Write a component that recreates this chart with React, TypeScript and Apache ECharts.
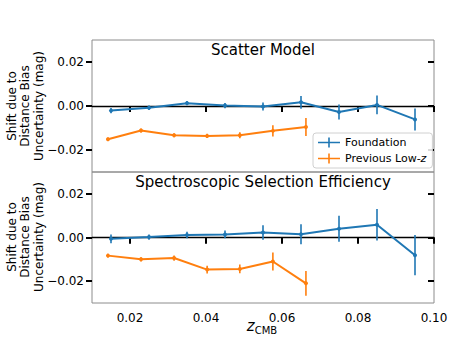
import React, { useEffect, useRef } from "react";
import * as echarts from "echarts";

const BLUE = "#1f77b4";
const ORANGE = "#ff7f0e";

// Foundation bins
const foundationZ = [0.015, 0.025, 0.035, 0.045, 0.055, 0.065, 0.075, 0.085, 0.095];
const foundationScatter = [-0.0021, -0.0008, 0.0013, 0.0002, -0.0002, 0.0017, -0.0027, 0.0005, -0.0061];
const foundationScatterErr = [0.0012, 0.001, 0.001, 0.0012, 0.0018, 0.0029, 0.0034, 0.0043, 0.005];
const foundationSpec = [-0.0006, 0.0002, 0.0011, 0.0014, 0.0023, 0.0015, 0.004, 0.0058, -0.0081];
const foundationSpecErr = [0.002, 0.0012, 0.0015, 0.0018, 0.0033, 0.0046, 0.006, 0.0072, 0.0092];

// Previous Low-z bins
const lowzZ = [0.0142, 0.0229, 0.0316, 0.0403, 0.0489, 0.0576, 0.0663];
const lowzScatter = [-0.0151, -0.0111, -0.0133, -0.0136, -0.0133, -0.0113, -0.0095];
const lowzScatterErr = [0.0008, 0.0009, 0.0009, 0.001, 0.0014, 0.0026, 0.0041];
const lowzSpec = [-0.0083, -0.01, -0.0094, -0.0147, -0.0144, -0.011, -0.021];
const lowzSpecErr = [0.0009, 0.001, 0.0012, 0.0018, 0.002, 0.0041, 0.0057];

const xTicks = [0.02, 0.04, 0.06, 0.08, 0.1];
const yTicks = [-0.02, 0, 0.02];

const FONT = "DejaVu Sans";
const crossIcon = "path://M0,4.2h22v1.6h-22z M10.2,0h1.6v10h-1.6z";

function fmt(v: number) {
  const s = Math.abs(v).toFixed(2);
  return v < -1e-9 ? "\u2212" + s : s;
}

export default function App() {
  const ref = useRef<HTMLDivElement>(null);
  useEffect(() => {
    document.body.style.margin = "0";
    const chart = echarts.init(ref.current!, null, { renderer: "svg" });
    const grids = [
      { left: 92, top: 40, width: 342, height: 132 },
      { left: 92, top: 172, width: 342, height: 131 },
    ].map((g) => ({ ...g, show: true, borderColor: "#8c8c8c", borderWidth: 1, backgroundColor: "transparent" }));

    const mkX = (grid: number, inside: boolean, labels: boolean) => ({
      type: "value",
      gridIndex: grid,
      min: 0.01,
      max: 0.1,
      axisLine: { show: false },
      splitLine: { show: false },
      axisTick: {
        show: true,
        inside,
        length: 6,
        customValues: xTicks,
        lineStyle: { color: "#000", width: 2 },
      },
      axisLabel: {
        show: labels,
        customValues: xTicks,
        formatter: (v: number) => v.toFixed(2),
        fontFamily: FONT,
        fontSize: 12,
        color: "#000",
        margin: 9,
      },
    });
    const mkY = (grid: number, inside: boolean, labels: boolean) => ({
      type: "value",
      gridIndex: grid,
      min: -0.03,
      max: 0.03,
      axisLine: { show: false },
      splitLine: { show: false },
      axisTick: {
        show: true,
        inside,
        length: 6,
        customValues: yTicks,
        lineStyle: { color: "#000", width: 2 },
      },
      axisLabel: {
        show: labels,
        customValues: yTicks,
        formatter: (v: number) => fmt(v),
        fontFamily: FONT,
        fontSize: 12,
        color: "#000",
        margin: 8,
      },
    });

    const errSeries = (name: string, color: string, xs: number[], ys: number[], es: number[], axis: number) => ({
      type: "custom",
      name,
      xAxisIndex: axis,
      yAxisIndex: axis,
      data: xs.map((x, i) => [x, ys[i], es[i]]),
      encode: { x: 0, y: 1 },
      z: 3,
      renderItem: (params: any, api: any) => {
        const x = api.value(0);
        const y = api.value(1);
        const e = api.value(2);
        const p1 = api.coord([x, y - e]);
        const p2 = api.coord([x, y + e]);
        return {
          type: "line",
          shape: { x1: p1[0], y1: p1[1], x2: p2[0], y2: p2[1] },
          style: { stroke: color, lineWidth: 1.6 },
        };
      },
    });
    const lineSeries = (name: string, color: string, xs: number[], ys: number[], axis: number, zero: boolean) => ({
      type: "line",
      name,
      xAxisIndex: axis,
      yAxisIndex: axis,
      data: xs.map((x, i) => [x, ys[i]]),
      symbol: "circle",
      symbolSize: 4,
      showSymbol: true,
      lineStyle: { color, width: 2 },
      itemStyle: { color },
      z: 4,
      markLine: zero
        ? {
            silent: true,
            symbol: ["none", "none"],
            label: { show: false },
            lineStyle: { color: "#000", width: 1.3, type: "solid" },
            data: [{ yAxis: 0 }],
            z: 2,
          }
        : undefined,
    });

    chart.setOption({
      animation: false,
      grid: grids,
      xAxis: [mkX(0, false, false), mkX(0, true, false), mkX(1, false, true), mkX(1, true, false)],
      yAxis: [mkY(0, false, true), mkY(0, true, false), mkY(1, false, true), mkY(1, true, false)],
      legend: {
        left: 313,
        top: 133,
        orient: "vertical",
        itemWidth: 22,
        itemHeight: 10,
        itemGap: 5,
        padding: [4, 6, 4, 5],
        borderColor: "#d0d0d0",
        borderWidth: 1,
        borderRadius: 3,
        backgroundColor: "rgba(255,255,255,0.85)",
        data: [
          { name: "Foundation", icon: crossIcon, itemStyle: { color: BLUE } },
          { name: "Previous Low-z", icon: crossIcon, itemStyle: { color: ORANGE } },
        ],
        formatter: (n: string) => (n === "Previous Low-z" ? "Previous Low-{i|z}" : n),
        textStyle: {
          fontFamily: FONT,
          fontSize: 11,
          color: "#000",
          rich: { i: { fontFamily: FONT, fontSize: 11, fontStyle: "italic", color: "#000" } },
        },
      },
      graphic: [
        {
          type: "text",
          x: 263,
          y: 50,
          style: { text: "Scatter Model", font: `15px "${FONT}"`, fill: "#000", textAlign: "center", textVerticalAlign: "middle" },
        },
        {
          type: "text",
          x: 263,
          y: 182,
          style: {
            text: "Spectroscopic Selection Efficiency",
            font: `15px "${FONT}"`,
            fill: "#000",
            textAlign: "center",
            textVerticalAlign: "middle",
          },
        },
        ...[106, 237].map((cy) => ({
          type: "text",
          x: 25,
          y: cy,
          rotation: Math.PI / 2,
          style: {
            text: "Shift due to\nDistance Bias\nUncertainty (mag)",
            font: `12px "${FONT}"`,
            fill: "#000",
            textAlign: "center",
            textVerticalAlign: "middle",
            lineHeight: 13.5,
          },
        })),
        {
          type: "text",
          x: 262,
          y: 326,
          style: {
            text: "{z|z}{s|CMB}",
            textAlign: "center",
            textVerticalAlign: "middle",
            rich: {
              z: { fontFamily: FONT, fontSize: 15, fontStyle: "italic", fill: "#000", color: "#000", verticalAlign: "bottom" },
              s: { fontFamily: FONT, fontSize: 10, color: "#000", fill: "#000", verticalAlign: "bottom", padding: [0, 0, -2, 0] },
            },
          },
        },
      ],
      series: [
        errSeries("Foundation", BLUE, foundationZ, foundationScatter, foundationScatterErr, 0),
        lineSeries("Foundation", BLUE, foundationZ, foundationScatter, 0, true),
        errSeries("Previous Low-z", ORANGE, lowzZ, lowzScatter, lowzScatterErr, 0),
        lineSeries("Previous Low-z", ORANGE, lowzZ, lowzScatter, 0, false),
        errSeries("Foundation", BLUE, foundationZ, foundationSpec, foundationSpecErr, 2),
        lineSeries("Foundation", BLUE, foundationZ, foundationSpec, 2, true),
        errSeries("Previous Low-z", ORANGE, lowzZ, lowzSpec, lowzSpecErr, 2),
        lineSeries("Previous Low-z", ORANGE, lowzZ, lowzSpec, 2, false),
      ],
    });
    return () => chart.dispose();
  }, []);
  return <div ref={ref} style={{ width: 457, height: 341 }} />;
}
